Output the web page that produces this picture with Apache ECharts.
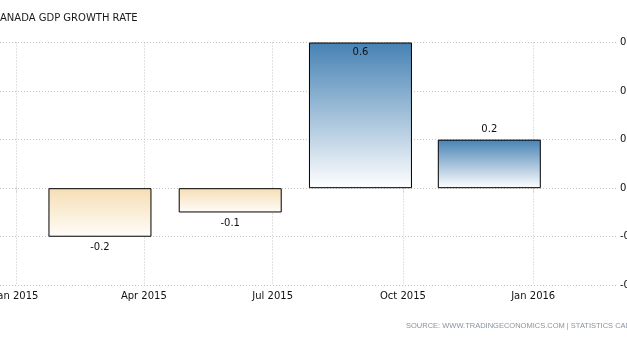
<!DOCTYPE html>
<html>
<head>
<meta charset="utf-8">
<script src="https://cdn.jsdelivr.net/npm/echarts@6/dist/echarts.min.js"></script>
<style>html,body{margin:0;padding:0;background:#fff;}#c{width:627px;height:340px;}</style>
</head>
<body>
<div id="c"></div>
<script>
// Data
var quarterDates = ['2015-03-01', '2015-06-01', '2015-09-01', '2015-12-01'];
var gdpGrowth = [-0.2, -0.1, 0.6, 0.2];
var tickDates = ['2015-01-01', '2015-04-01', '2015-07-01', '2015-10-01', '2016-01-01'];
var monthNames = ['Jan','Feb','Mar','Apr','May','Jun','Jul','Aug','Sep','Oct','Nov','Dec'];
var yTicks = [-0.4, -0.2, 0, 0.2, 0.4, 0.6];
var titleText = 'CANADA GDP GROWTH RATE';
var sourceText = 'SOURCE: WWW.TRADINGECONOMICS.COM | STATISTICS CANADA';

function ts(s){ var p = s.split('-'); return Date.UTC(+p[0], +p[1]-1, +p[2]); }
var DAY = 86400000;
var xMin = ts('2015-01-01') - 11.6 * DAY;
var xMax = ts('2016-01-01') + 59.9 * DAY;

var FONT = 'DejaVu Sans';
var posGrad = {type:'linear',x:0,y:0,x2:0,y2:1,colorStops:[{offset:0,color:'#4682b4'},{offset:1,color:'#ffffff'}]};
var negGrad = {type:'linear',x:0,y:0,x2:0,y2:1,colorStops:[{offset:0,color:'#f6deb4'},{offset:1,color:'#fffdf9'}]};

var barData = quarterDates.map(function(d, i){
  var v = gdpGrowth[i];
  var pos;
  if (v >= yTicks[yTicks.length-1]) pos = 'insideTop';
  else if (v >= 0) pos = 'top';
  else pos = 'bottom';
  return {
    value: [ts(d), v],
    itemStyle: {color: v >= 0 ? posGrad : negGrad},
    label: {position: pos, distance: v < 0 ? 6 : 5}
  };
});

var chart = echarts.init(document.getElementById('c'), null, {renderer:'canvas'});
chart.setOption({
  animation: false,
  backgroundColor: '#ffffff',
  grid: {left: 0, right: 9, top: 42.5, bottom: 54.7, containLabel: false, outerBoundsMode: 'none'},
  xAxis: {
    type: 'value',
    min: xMin, max: xMax,
    axisLine: {show: false},
    axisTick: {show: true, length: 5, lineStyle: {color: '#c4c4c4', type: [1, 2]}, customValues: tickDates.map(ts)},
    axisLabel: {
      customValues: tickDates.map(ts),
      margin: 6,
      hideOverlap: false,
      fontFamily: FONT, fontSize: 10, color: '#111',
      formatter: function(v){ var d = new Date(v); return monthNames[d.getUTCMonth()] + ' ' + d.getUTCFullYear(); }
    },
    splitLine: {show: true, lineStyle: {color: '#c4c4c4', type: [1, 2], width: 1}}
  },
  yAxis: {
    type: 'value',
    position: 'right',
    min: yTicks[0], max: yTicks[yTicks.length-1], interval: 0.2,
    axisLine: {show: false},
    axisTick: {show: false},
    axisLabel: {margin: 2, fontFamily: FONT, fontSize: 10, color: '#111',
      formatter: function(v){ return (Math.round(v*10)/10).toString(); }},
    splitLine: {show: true, lineStyle: {color: '#c4c4c4', type: [1, 2], width: 1}}
  },
  graphic: [{
    type: 'text', x: -7, y: 13,
    style: {text: titleText, fontFamily: FONT, fontSize: 10, fill: '#1a1a1a'}
  }, {
    type: 'text', x: 406, y: 322,
    style: {text: sourceText, fontFamily: 'Liberation Sans', fontSize: 7.5, fill: '#8893a0'}
  }],
  series: [{
    type: 'bar',
    barWidth: 103,
    data: barData,
    itemStyle: {borderColor: '#000', borderWidth: 1},
    label: {show: true, fontFamily: FONT, fontSize: 10, color: '#111',
      formatter: function(p){ return p.value[1].toFixed(1); }}
  }]
});
</script>
</body>
</html>
